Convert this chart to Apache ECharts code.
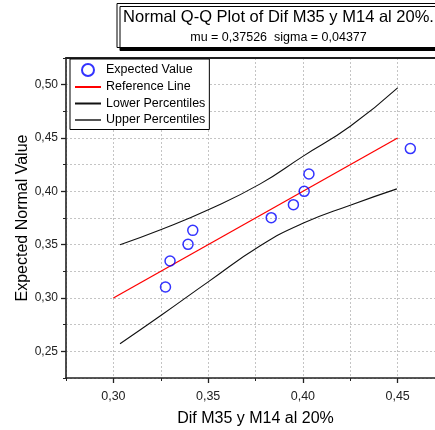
<!DOCTYPE html>
<html>
<head>
<meta charset="utf-8">
<script src="https://cdn.jsdelivr.net/npm/echarts@6/dist/echarts.min.js"></script>
<style>html,body{margin:0;padding:0;background:#fff}#c{width:435px;height:430px}</style>
</head>
<body>
<div id="c"></div>
<script>
// ---- data ----
const titleText = 'Normal Q-Q Plot of Dif M35 y M14 al 20%.';
const subText = 'mu = 0,37526  sigma = 0,04377';
const xName = 'Dif M35 y M14 al 20%';
const yName = 'Expected Normal Value';
const xMajorTicks = [0.30, 0.35, 0.40, 0.45];
const yMajorTicks = [0.25, 0.30, 0.35, 0.40, 0.45, 0.50];
const obsX = [0.3275, 0.3299, 0.3394, 0.3419, 0.3833, 0.3950, 0.4007, 0.4032, 0.4567];
const expY = [0.3103, 0.3347, 0.3503, 0.3634, 0.3753, 0.3875, 0.4000, 0.4163, 0.4401];
const refX = [0.30, 0.45];
const refY = [0.30, 0.45];
const lowerX = [0.3035, 0.3256, 0.3504, 0.3775, 0.4000, 0.4250, 0.4496];
const lowerY = [0.2571, 0.2843, 0.3156, 0.3490, 0.3700, 0.3870, 0.4023];
const upperX = [0.3035, 0.3256, 0.3504, 0.3775, 0.4000, 0.4250, 0.4500];
const upperY = [0.3500, 0.3645, 0.3830, 0.4070, 0.4328, 0.4610, 0.4970];

const zip = (a, b) => a.map((v, i) => [v, b[i]]);
const fmt = v => v.toFixed(2).replace('.', ',');
const FONT = 'Liberation Sans, Arial, sans-serif';

const chart = echarts.init(document.getElementById('c'), null, {renderer: 'canvas'});
const gridSplit = {show: true, lineStyle: {color: '#c4c4c4', type: [2, 2], width: 1}};
const axisLine = {show: true, onZero: false, lineStyle: {color: '#222', width: 1.6}};
const noSym = {opacity: 0};

chart.setOption({
  animation: false,
  backgroundColor: '#fff',
  title: {
    text: titleText,
    subtext: subText,
    left: 272.5, top: 3,
    textAlign: 'center',
    padding: [6, 6, 4, 6],
    itemGap: 5,
    backgroundColor: '#fff',
    borderColor: '#000', borderWidth: 1,
    shadowColor: '#000', shadowBlur: 0, shadowOffsetX: 3, shadowOffsetY: 3,
    textStyle: {fontFamily: FONT, fontSize: 16.5, fontWeight: 'normal', color: '#000'},
    subtextStyle: {fontFamily: FONT, fontSize: 12.5, color: '#000'}
  },
  legend: {
    orient: 'vertical', left: 70, top: 59,
    padding: [4, 4, 3, 4], itemGap: 3.5,
    itemWidth: 26, itemHeight: 12,
    backgroundColor: '#fff', borderColor: '#000', borderWidth: 1,
    textStyle: {fontFamily: FONT, fontSize: 12.5, color: '#000'},
    data: [
      {name: 'Expected Value'},
      {name: 'Reference Line', itemStyle: noSym},
      {name: 'Lower Percentiles', itemStyle: noSym},
      {name: 'Upper Percentiles', itemStyle: noSym, lineStyle: {color: '#555', width: 2}}
    ]
  },
  grid: {left: 66, top: 58, bottom: 52, right: -10, outerBoundsMode: 'none', containLabel: false},
  xAxis: [
    {type: 'value', position: 'bottom', min: 0.275, max: 0.475, interval: 0.025,
     name: xName, nameLocation: 'middle', nameGap: 33, nameMoveOverlap: false,
     nameTextStyle: {fontFamily: FONT, fontSize: 16, color: '#000'},
     axisLine: axisLine,
     axisTick: {show: true, length: 3, lineStyle: {color: '#222'}},
     axisLabel: {fontFamily: FONT, fontSize: 12.5, color: '#222', margin: 12,
       formatter: v => (Math.round(v * 1000) % 50 === 0 ? fmt(v) : '')},
     splitLine: gridSplit},
    {type: 'value', position: 'bottom', min: 0.275, max: 0.475,
     axisLine: {show: false}, axisLabel: {show: false}, splitLine: {show: false},
     axisTick: {show: true, length: 5, customValues: xMajorTicks, lineStyle: {color: '#222', width: 1.3}}},
    {type: 'value', position: 'top', min: 0.275, max: 0.475,
     axisLine: {show: true, lineStyle: {color: '#222', width: 2}},
     axisTick: {show: false}, axisLabel: {show: false}, splitLine: {show: false}}
  ],
  yAxis: [
    {type: 'value', position: 'left', min: 0.225, max: 0.525, interval: 0.025,
     name: yName, nameLocation: 'middle', nameGap: 35, nameRotate: 90, nameMoveOverlap: false,
     nameTextStyle: {fontFamily: FONT, fontSize: 16, color: '#000'},
     axisLine: axisLine,
     axisTick: {show: true, length: 3, lineStyle: {color: '#222'}},
     axisLabel: {fontFamily: FONT, fontSize: 12, color: '#222', margin: 8,
       formatter: v => (Math.round(v * 1000) % 50 === 0 ? fmt(v) : '')},
     splitLine: gridSplit},
    {type: 'value', position: 'left', min: 0.225, max: 0.525,
     axisLine: {show: false}, axisLabel: {show: false}, splitLine: {show: false},
     axisTick: {show: true, length: 5, customValues: yMajorTicks, lineStyle: {color: '#222', width: 1.3}}}
  ],
  series: [
    {name: 'Expected Value', type: 'scatter', data: zip(obsX, expY),
     symbol: 'circle', symbolSize: 10, z: 5,
     itemStyle: {color: 'rgba(255,255,255,0)', borderColor: '#0000ff', borderWidth: 1.5}},
    {name: 'Reference Line', type: 'line', data: zip(refX, refY), showSymbol: false, symbol: 'none',
     lineStyle: {color: '#ff0000', width: 1.3}, itemStyle: {color: '#ff0000'}},
    {name: 'Lower Percentiles', type: 'line', data: zip(lowerX, lowerY), smooth: 0.5, showSymbol: false, symbol: 'none',
     lineStyle: {color: '#111', width: 1.1}, itemStyle: {color: '#111'}},
    {name: 'Upper Percentiles', type: 'line', data: zip(upperX, upperY), smooth: 0.5, showSymbol: false, symbol: 'none',
     lineStyle: {color: '#111', width: 1.1}, itemStyle: {color: '#111'}}
  ]
});
</script>
</body>
</html>
